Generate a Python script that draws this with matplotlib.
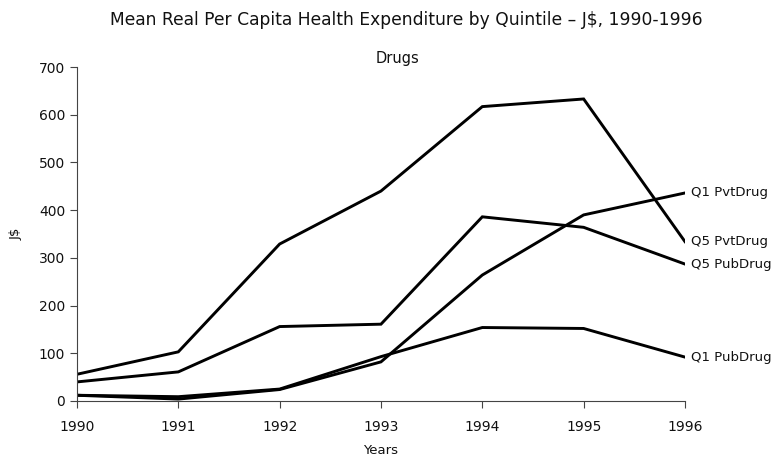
import matplotlib
matplotlib.use("Agg")
import matplotlib.pyplot as plt

years = [1990, 1991, 1992, 1993, 1994, 1995, 1996]
series_names = ["Q1 PvtDrug", "Q5 PvtDrug", "Q5 PubDrug", "Q1 PubDrug"]
q1_pvt = [12, 4, 24, 82, 264, 390, 436]
q5_pvt = [56, 103, 329, 440, 617, 633, 334]
q5_pub = [40, 61, 156, 161, 386, 364, 287]
q1_pub = [12, 9, 25, 93, 154, 152, 92]
y_ticks = [0, 100, 200, 300, 400, 500, 600, 700]

plt.rcParams["font.family"] = ["DejaVu Sans"]

fig = plt.figure(figsize=(7.76, 4.66), dpi=100)
ax = fig.add_axes([0.0992, 0.1395, 0.7835, 0.7167])

for name, vals in zip(series_names, [q1_pvt, q5_pvt, q5_pub, q1_pub]):
    ax.plot(years, vals, color="black", linewidth=2.1, solid_joinstyle="miter")
    ax.annotate(name, xy=(years[-1], vals[-1]), xytext=(4, 0),
                textcoords="offset points", ha="left", va="center",
                fontsize=9.5, color="#111111", annotation_clip=False)

ax.set_xlim(years[0], years[-1])
ax.set_ylim(0, 700)
ax.set_xticks(years)
ax.set_yticks(y_ticks)
ax.tick_params(axis="both", labelsize=10, length=5, width=0.8, color="#444444",
               labelcolor="#111111")
ax.tick_params(axis="x", pad=9)
for side in ["top", "right"]:
    ax.spines[side].set_visible(False)
for side in ["left", "bottom"]:
    ax.spines[side].set_linewidth(0.8)
    ax.spines[side].set_color("#444444")

ax.set_xlabel("Years", fontsize=9.5, labelpad=7, color="#111111")
ax.set_ylabel("J$", fontsize=9.5, labelpad=12, color="#111111")
fig.text(398 / 776, 1 - 58 / 466, "Drugs", fontsize=10.5, ha="center", va="center",
         color="#111111")
fig.text(406 / 776, 1 - 20 / 466,
         "Mean Real Per Capita Health Expenditure by Quintile \u2013 J$, 1990-1996",
         fontsize=12.3, ha="center", va="center", color="#111111")

fig.savefig("out.png", dpi=100)
